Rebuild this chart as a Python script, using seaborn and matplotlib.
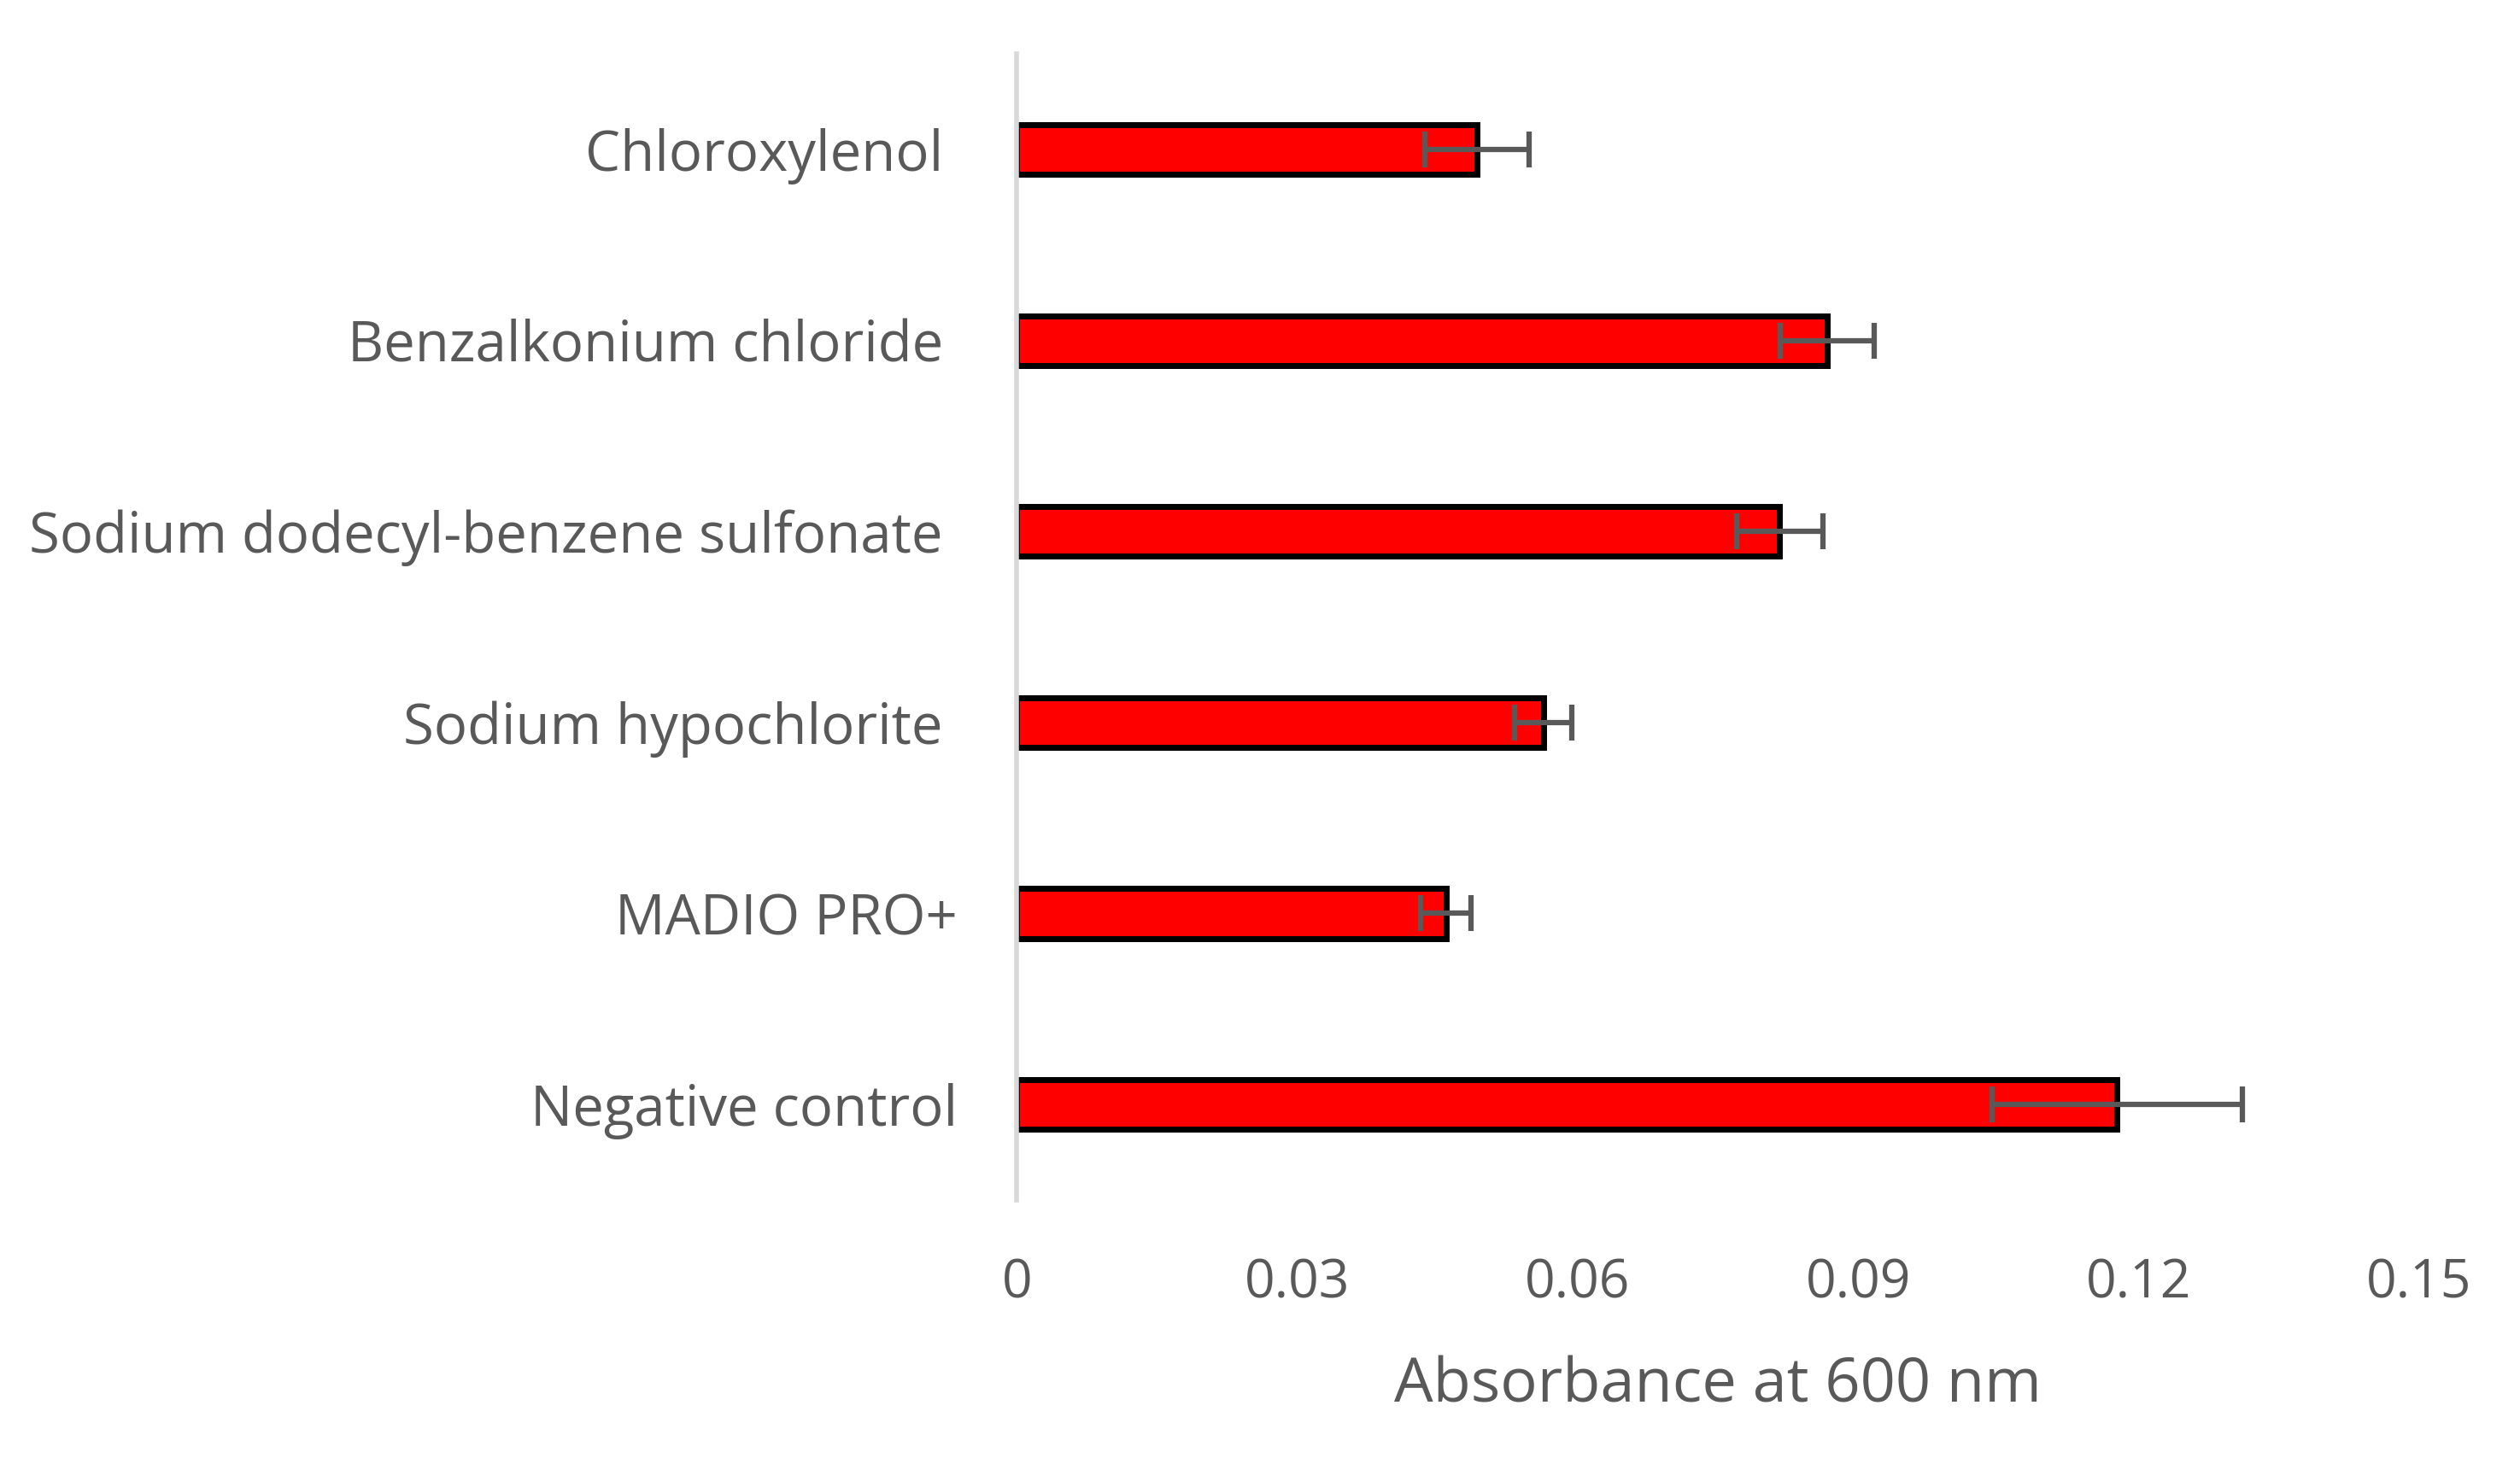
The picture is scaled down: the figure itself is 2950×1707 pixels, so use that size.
import matplotlib
matplotlib.use('Agg')
import matplotlib.pyplot as plt
import seaborn as sns
import pandas as pd

# data
behandlingar = ['Chloroxylenol ', 'Benzalkonium chloride ',
                'Sodium dodecyl-benzene sulfonate ', 'Sodium hypochlorite ',
                'MADIO PRO+', 'Negative control']
absorbans = [0.0492, 0.0867, 0.0816, 0.0563, 0.0459, 0.1177]
fel = [0.0056, 0.0050, 0.0046, 0.0031, 0.0027, 0.0134]
x_ticks = [0, 0.03, 0.06, 0.09, 0.12, 0.15]
x_tick_labels = ['0', '0.03', '0.06', '0.09', '0.12', '0.15']

df = pd.DataFrame({'behandling': behandlingar, 'absorbans': absorbans})

sns.set_theme(style='white')
plt.rcParams['font.family'] = ['Open Sans', 'DejaVu Sans']
grey = '#595959'

fig = plt.figure(figsize=(29.5, 17.07), dpi=100)
ax = fig.add_axes([0.4035, 0.177, 0.5565, 0.786])

sns.barplot(data=df, x='absorbans', y='behandling', orient='h',
            color='#ff0000', saturation=1, width=0.26,
            edgecolor='black', linewidth=5, ax=ax)

# error bars
ax.errorbar(df['absorbans'], range(len(df)), xerr=fel, fmt='none',
            ecolor=grey, elinewidth=4.5, capsize=15, capthick=4.5, zorder=5)

ax.set_xlim(0, 0.15)
ax.set_ylim(5.5, -0.5)
ax.set_xticks(x_ticks)
ax.set_xticklabels(x_tick_labels)
ax.tick_params(axis='x', length=0, pad=48, labelsize=45, labelcolor=grey)
ax.tick_params(axis='y', length=0, pad=50, labelsize=47, labelcolor=grey)

ax.set_ylabel('')
ax.set_xlabel('Absorbance at 600 nm', fontsize=52, color=grey, labelpad=38)

for s in ['top', 'right', 'bottom']:
    ax.spines[s].set_visible(False)
ax.spines['left'].set_color('#d9d9d9')
ax.spines['left'].set_linewidth(4)

fig.savefig('out.png', dpi=100, facecolor='white')
